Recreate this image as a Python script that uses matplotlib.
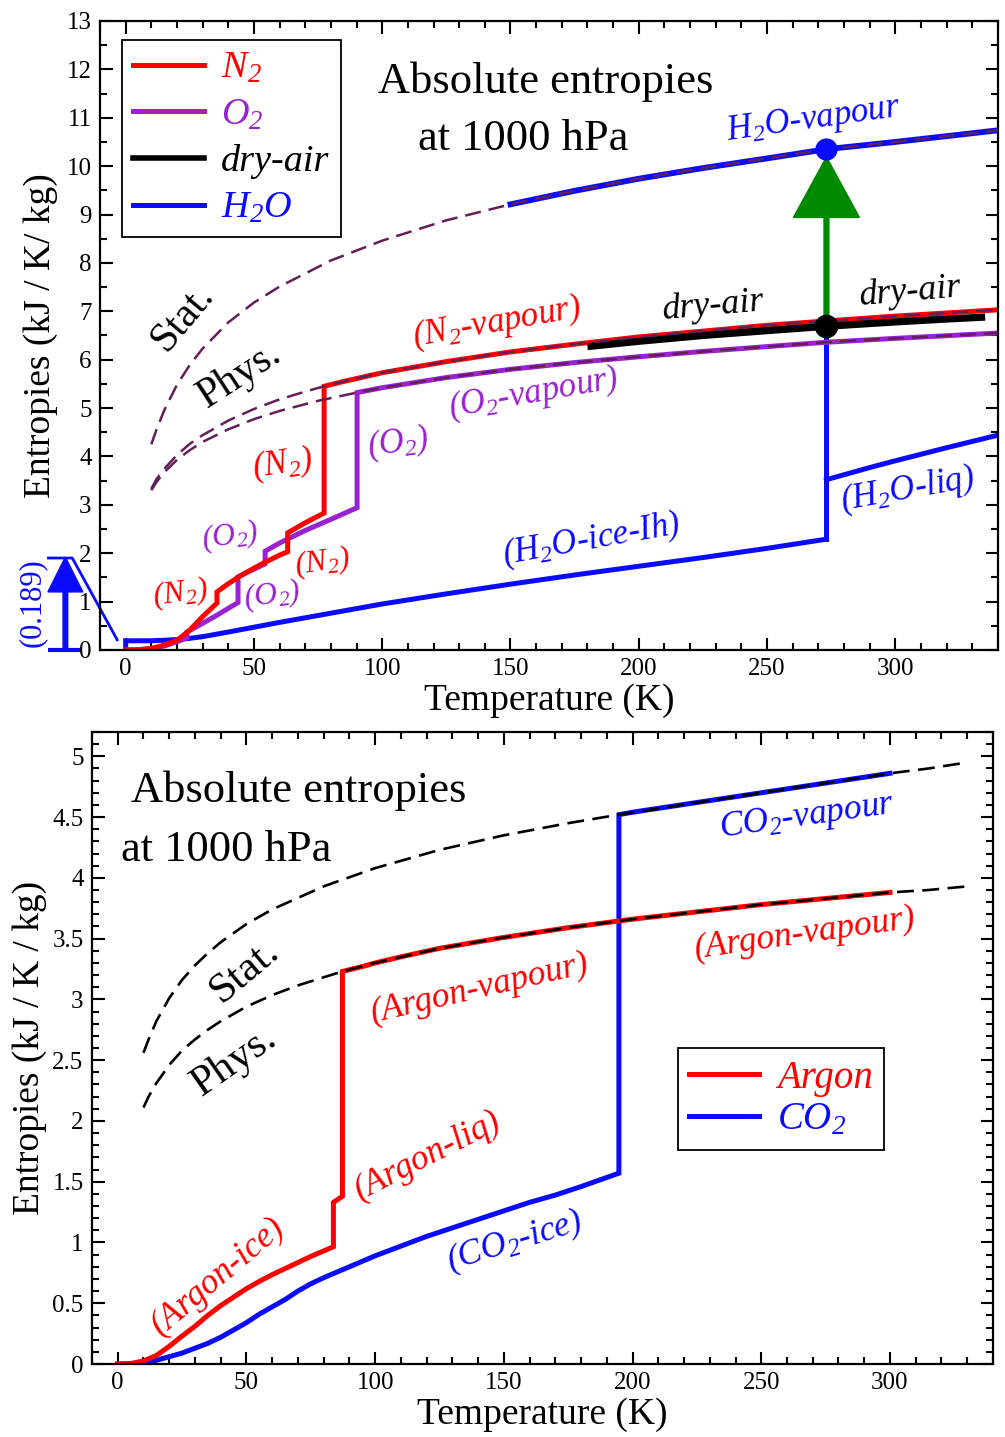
import matplotlib
matplotlib.use('Agg')
import matplotlib.pyplot as plt
from matplotlib.ticker import MultipleLocator, FormatStrFormatter

plt.rcParams['font.family'] = ['Liberation Serif', 'DejaVu Serif']
plt.rcParams['mathtext.fontset'] = 'custom'
plt.rcParams['mathtext.rm'] = 'Liberation Serif:italic'
plt.rcParams['mathtext.it'] = 'Liberation Serif:italic'
plt.rcParams['mathtext.bf'] = 'Liberation Serif:bold'

# ---------------- top panel data (T in K, S in kJ/K/kg) ----------------
T_N2 = [0, 5, 10, 15, 20, 25, 30, 35.6, 35.6, 40, 45, 50, 55, 60, 63.15, 63.15, 70, 77.35, 77.35,
        85, 100, 125, 150, 175, 200, 225, 250, 273.15, 300, 340]
S_N2 = [0, 0.005, 0.03, 0.1, 0.2, 0.41, 0.69, 0.97, 1.2, 1.37, 1.54, 1.69, 1.83, 1.96, 2.03, 2.42, 2.63, 2.83, 5.45,
        5.55, 5.73, 5.96, 6.16, 6.32, 6.47, 6.59, 6.71, 6.80, 6.90, 7.03]

T_O2 = [0, 5, 10, 15, 20, 23.9, 23.9, 30, 35, 40, 43.8, 43.8, 48, 54.36, 54.36, 60, 70, 80, 90.2, 90.2,
        100, 125, 150, 175, 200, 225, 250, 273.15, 300, 340]
S_O2 = [0, 0.005, 0.03, 0.08, 0.17, 0.25, 0.37, 0.55, 0.70, 0.86, 0.98, 1.51, 1.62, 1.78, 2.04, 2.21, 2.47, 2.70, 2.94, 5.32,
        5.42, 5.63, 5.80, 5.94, 6.06, 6.17, 6.27, 6.36, 6.44, 6.55]

T_N2_gas = [10, 12, 15, 20, 25, 30, 40, 50, 60, 70, 77.35, 85, 100, 125, 150, 175, 200, 225, 250, 273.15, 300, 340]
S_N2_gas = [3.33, 3.53, 3.74, 4.03, 4.26, 4.44, 4.74, 4.98, 5.18, 5.34, 5.45, 5.55, 5.73, 5.96, 6.16, 6.32, 6.47, 6.59, 6.71, 6.80, 6.90, 7.03]
T_O2_gas = [10, 12, 15, 20, 25, 30, 40, 50, 60, 75, 90.2, 100, 125, 150, 175, 200, 225, 250, 273.15, 300, 340]
S_O2_gas = [3.30, 3.47, 3.67, 3.93, 4.13, 4.30, 4.56, 4.77, 4.94, 5.15, 5.32, 5.42, 5.63, 5.80, 5.94, 6.06, 6.17, 6.27, 6.36, 6.44, 6.55]

T_H2O_ice = [0, 0, 10, 15, 20, 25, 30, 40, 50, 60, 80, 100, 125, 150, 175, 200, 225, 250, 273.15]
S_H2O_ice = [0, 0.189, 0.19, 0.20, 0.215, 0.24, 0.275, 0.37, 0.47, 0.57, 0.76, 0.95, 1.16, 1.36, 1.55, 1.73, 1.91, 2.10, 2.29]
T_H2O_jump = [273.15, 273.15]
S_H2O_jump = [2.29, 6.69]
T_H2O_liq = [273.15, 290, 300, 320, 340]
S_H2O_liq = [3.52, 3.77, 3.91, 4.18, 4.44]
T_H2O_vap = [150, 175, 200, 225, 250, 273.15, 300, 340]
S_H2O_vap = [9.21, 9.49, 9.74, 9.96, 10.16, 10.35, 10.50, 10.74]
T_H2O_gas = [10, 12, 15, 20, 25, 30, 40, 50, 60, 80, 100, 125, 150, 175, 200, 225, 250, 273.15, 300, 340]
S_H2O_gas = [4.25, 4.55, 4.95, 5.48, 5.89, 6.23, 6.77, 7.18, 7.51, 8.05, 8.46, 8.88, 9.21, 9.49, 9.74, 9.96, 10.16, 10.35, 10.50, 10.74]

T_dry = [180, 200, 225, 250, 273.15, 300, 320, 335]
S_dry = [6.27, 6.38, 6.50, 6.60, 6.69, 6.78, 6.84, 6.88]

T0 = 273.15
S_dry_T0 = 6.69
S_vap_T0 = 10.35
S_residual = 0.189

# ---------------- bottom panel data ----------------
T_Ar = [0, 5, 10, 15, 20, 25, 30, 35, 40, 45, 50, 55, 60, 65, 70, 75, 80, 83.8, 83.8, 87.3, 87.3,
        95, 100, 110, 125, 150, 175, 200, 225, 250, 275, 300]
S_Ar = [0, 0.004, 0.025, 0.07, 0.145, 0.23, 0.31, 0.40, 0.48, 0.55, 0.62, 0.68, 0.735, 0.785, 0.835, 0.885, 0.93, 0.965,
        1.33, 1.38, 3.23, 3.27, 3.30, 3.35, 3.42, 3.51, 3.59, 3.66, 3.72, 3.78, 3.83, 3.88]
T_Ar_gas = [10, 12, 15, 20, 25, 30, 35, 40, 50, 60, 70, 87.3, 100, 125, 150, 175, 200, 225, 250, 275, 300, 315, 330]
S_Ar_gas = [2.11, 2.20, 2.31, 2.46, 2.58, 2.67, 2.75, 2.82, 2.94, 3.035, 3.115, 3.23, 3.30, 3.42, 3.51, 3.59, 3.66, 3.72, 3.78, 3.83, 3.88, 3.90, 3.93]

T_CO2 = [0, 5, 10, 15, 20, 25, 30, 35, 40, 45, 50, 55, 60, 65, 70, 75, 80, 90, 100, 110, 120, 130, 140, 150,
         160, 170, 180, 194.7, 194.7, 200, 225, 250, 275, 300]
S_CO2 = [0, 0.002, 0.01, 0.03, 0.06, 0.09, 0.13, 0.17, 0.22, 0.28, 0.34, 0.41, 0.47, 0.53, 0.60, 0.66, 0.71, 0.80, 0.89,
         0.97, 1.05, 1.12, 1.19, 1.26, 1.33, 1.39, 1.46, 1.57, 4.52, 4.54, 4.62, 4.70, 4.78, 4.86]
T_CO2_gas = [10, 12, 15, 20, 25, 30, 35, 40, 50, 60, 80, 100, 125, 150, 175, 194.7, 225, 250, 275, 300, 315, 330]
S_CO2_gas = [2.56, 2.67, 2.82, 3.01, 3.16, 3.28, 3.38, 3.47, 3.62, 3.74, 3.93, 4.08, 4.23, 4.35, 4.45, 4.52, 4.62, 4.70, 4.78, 4.86, 4.90, 4.95]

# ---------------- styles ----------------
RED = '#ff0000'
PURPLE = '#9a22d0'
BLUE = '#0a0aff'
GREEN = '#008a00'
DASHC = '#641e5a'
LW = 3.6
DASH = (0, (6.4, 3.2))
SERIF = ['Liberation Serif', 'DejaVu Serif']

fig = plt.figure(figsize=(10.05, 14.37), dpi=100)
ax1 = fig.add_axes([0.0995, 0.5477, 0.8935, 0.4377])
ax2 = fig.add_axes([0.0915, 0.0508, 0.8965, 0.4398])


def style(ax, ymaj, ymin, ylim, fmt):
    ax.set_xlim(-10, 340)
    ax.set_ylim(*ylim)
    ax.xaxis.set_major_locator(MultipleLocator(50))
    ax.xaxis.set_minor_locator(MultipleLocator(10))
    ax.yaxis.set_major_locator(MultipleLocator(ymaj))
    ax.yaxis.set_minor_locator(MultipleLocator(ymin))
    ax.yaxis.set_major_formatter(FormatStrFormatter(fmt))
    ax.tick_params(which='both', direction='in', top=True, right=True, width=1.5,
                   labelsize=18, pad=6)
    ax.tick_params(which='major', length=9)
    ax.tick_params(which='minor', length=5)
    for s in ax.spines.values():
        s.set_linewidth(1.6)
    ax.set_xlabel('Temperature (K)', fontsize=27, labelpad=2)


style(ax1, 1, 0.5, (0, 13), '%g')
style(ax2, 0.5, 0.1, (0, 5.2), '%g')
ax1.set_ylabel('Entropies (kJ / K/ kg)', fontsize=27, labelpad=6)
ax2.set_ylabel('Entropies (kJ / K / kg)', fontsize=27, labelpad=4)

# ---------------- top panel ----------------
ax1.plot(T_H2O_ice, S_H2O_ice, color=BLUE, lw=LW, zorder=2, solid_joinstyle='miter')
ax1.plot(T_H2O_jump, S_H2O_jump, color=BLUE, lw=LW, zorder=2)
ax1.plot(T_H2O_liq, S_H2O_liq, color=BLUE, lw=LW, zorder=2)
ax1.plot(T_H2O_vap, S_H2O_vap, color=BLUE, lw=LW + 0.6, zorder=2)
ax1.plot(T_O2, S_O2, color=PURPLE, lw=LW, zorder=2.2, solid_joinstyle='miter')
ax1.plot(T_N2, S_N2, color=RED, lw=LW, zorder=2.3, solid_joinstyle='miter')
ax1.plot(T_dry, S_dry, color='black', lw=5.2, zorder=2.4, solid_capstyle='butt')

for T, S in [(T_H2O_gas, S_H2O_gas), (T_N2_gas, S_N2_gas), (T_O2_gas, S_O2_gas)]:
    ax1.plot(T, S, color=DASHC, lw=1.8, linestyle=DASH, zorder=3)

ax1.arrow(T0, S_dry_T0, 0, 10.19 - S_dry_T0, width=1.9, head_width=25.7, head_length=1.25,
          length_includes_head=True, color=GREEN, zorder=4)
ax1.plot([T0], [S_dry_T0], 'o', color='black', ms=16, zorder=5)
ax1.plot([T0], [S_vap_T0], 'o', color=BLUE, ms=15, zorder=5)

# residual entropy annotation (outside axes)
ax1.arrow(-23.5, 0, 0, 1.92, width=1.8, head_width=13.6, head_length=0.72,
          length_includes_head=True, color=BLUE, clip_on=False, zorder=5)
ax1.plot([-30.1, -17.7], [0.0, 0.0], color=BLUE, lw=3, clip_on=False, solid_capstyle='butt')
ax1.plot([-30.1, -20.8, -3.3], [1.9, 1.9, 0.21], color=BLUE, lw=2, clip_on=False)
ax1.text(-36.3, 0.97, '(%g)' % S_residual, color=BLUE, fontsize=22, rotation=90,
         ha='center', va='center')

leg1 = ax1.legend(
    [plt.Line2D([], [], color=RED, lw=LW), plt.Line2D([], [], color=PURPLE, lw=LW),
     plt.Line2D([], [], color='black', lw=LW + 0.4), plt.Line2D([], [], color=BLUE, lw=LW)],
    ['N$_2$', 'O$_2$', 'dry-air', 'H$_2$O'],
    loc='upper left', bbox_to_anchor=(0.0245, 0.970), borderaxespad=0,
    prop={'family': SERIF, 'style': 'italic', 'size': 27.5},
    labelcolor=[RED, PURPLE, 'black', BLUE], handlelength=1.85, handletextpad=0.45,
    labelspacing=0.31, borderpad=0.3, fancybox=False, framealpha=1, edgecolor='black')
leg1.get_frame().set_linewidth(1.3)


def lab(ax, x, y, s, c, rot=0, size=25, italic=True, ha='center'):
    ax.text(x, y, s, color=c, fontsize=size, rotation=rot, ha=ha, va='center',
            rotation_mode='anchor', style='italic' if italic else 'normal', zorder=6)


lab(ax1, 163.8, 11.74, 'Absolute entropies', 'black', 0, 32, False)
lab(ax1, 154.9, 10.56, 'at 1000 hPa', 'black', 0, 32, False)
lab(ax1, 268, 10.95, 'H$_2$O-vapour', BLUE, 8, 25)
lab(ax1, 229, 7.12, 'dry-air', 'black', 5, 26)
lab(ax1, 306, 7.40, 'dry-air', 'black', 5, 26)
lab(ax1, 22, 6.87, 'Stat.', 'black', 50, 30, False)
lab(ax1, 44.6, 5.69, 'Phys.', 'black', 33, 30, False)
lab(ax1, 144.8, 6.77, '(N$_2$-vapour)', RED, 10)
lab(ax1, 159, 5.30, '(O$_2$-vapour)', PURPLE, 10)
lab(ax1, 61.2, 3.83, '(N$_2$)', RED, 8)
lab(ax1, 106.3, 4.27, '(O$_2$)', PURPLE, 8)
lab(ax1, 40.6, 2.34, '(O$_2$)', PURPLE, 8, 23)
lab(ax1, 76.8, 1.80, '(N$_2$)', RED, 8, 23)
lab(ax1, 57.0, 1.12, '(O$_2$)', PURPLE, 8, 23)
lab(ax1, 21.2, 1.16, '(N$_2$)', RED, 8, 23)
lab(ax1, 181.7, 2.28, '(H$_2$O-ice-Ih)', BLUE, 10)
lab(ax1, 304.9, 3.31, '(H$_2$O-liq)', BLUE, 10)

# ---------------- bottom panel ----------------
ax2.plot(T_CO2, S_CO2, color=BLUE, lw=LW, zorder=2, solid_joinstyle='miter')
ax2.plot(T_Ar, S_Ar, color=RED, lw=LW, zorder=2.2, solid_joinstyle='miter')
for T, S in [(T_Ar_gas, S_Ar_gas), (T_CO2_gas, S_CO2_gas)]:
    ax2.plot(T, S, color='black', lw=1.9, linestyle=DASH, zorder=3)

leg2 = ax2.legend(
    [plt.Line2D([], [], color=RED, lw=LW), plt.Line2D([], [], color=BLUE, lw=LW)],
    ['Argon', 'CO$_2$'],
    loc='upper left', bbox_to_anchor=(0.650, 0.500), borderaxespad=0,
    prop={'family': SERIF, 'style': 'italic', 'size': 28},
    labelcolor=[RED, BLUE], handlelength=1.8, handletextpad=0.45,
    labelspacing=0.12, borderpad=0.3, fancybox=False, framealpha=1, edgecolor='black')
leg2.get_frame().set_linewidth(1.3)

lab(ax2, 5.0, 4.72, 'Absolute entropies', 'black', 0, 32, False, ha='left')
lab(ax2, 1.2, 4.23, 'at 1000 hPa', 'black', 0, 32, False, ha='left')
lab(ax2, 267.8, 4.50, 'CO$_2$-vapour', BLUE, 8, 25.5)
lab(ax2, 140.5, 3.09, '(Argon-vapour)', RED, 13, 25.5)
lab(ax2, 267.0, 3.54, '(Argon-vapour)', RED, 8, 25.5)
lab(ax2, 49.3, 3.23, 'Stat.', 'black', 40, 31, False)
lab(ax2, 45.4, 2.49, 'Phys.', 'black', 35, 31, False)
lab(ax2, 120.3, 1.71, '(Argon-liq)', RED, 27, 25.5)
lab(ax2, 38.8, 0.72, '(Argon-ice)', RED, 40, 25.5)
lab(ax2, 154.0, 1.01, '(CO$_2$-ice)', BLUE, 17, 25.5)

fig.savefig('out.png', dpi=100)
